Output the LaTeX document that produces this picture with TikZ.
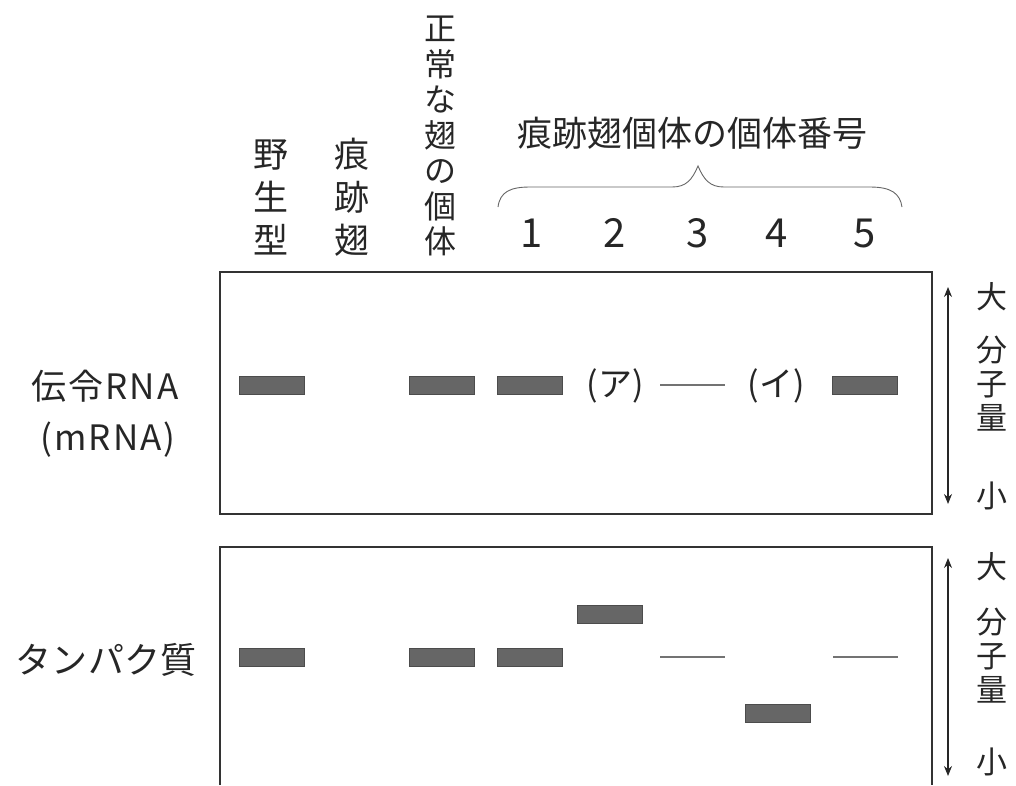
\documentclass[tikz,border=0pt]{standalone}
\usepackage{fontspec}
\setmainfont{Noto Sans CJK JP}
\usetikzlibrary{arrows.meta}
\begin{document}
\begin{tikzpicture}[x=1pt,y=-1pt,
  band/.style={fill=black!60,draw=black!70,line width=0.6pt,minimum width=65pt,minimum height=18pt,inner sep=0pt},
  faint/.style={draw=black!55,line width=2.6pt},
  frame/.style={draw=black!80,line width=1.2pt},
  lbl/.style={inner sep=0pt,text=black!85,align=center},
  axis/.style={draw=black!85,line width=1.1pt,{Stealth[length=10pt,width=8pt]}-{Stealth[length=10pt,width=8pt]}},
  brace/.style={draw=black!60,line width=0.9pt}
]
\useasboundingbox (0,0) rectangle (1016,785);

% column headers
\node[lbl,font=\fontsize{35}{43}\selectfont] (wt) at (271,197) {野\\生\\型};
\node[lbl,font=\fontsize{35}{43}\selectfont] (vg) at (352,197) {痕\\跡\\翅};
\node[lbl,font=\fontsize{32}{35.5}\selectfont] (nm) at (440,136) {正\\常\\な\\翅\\の\\個\\体};
\node[lbl,font=\fontsize{35}{40}\selectfont] (hd) at (692,133) {痕跡翅個体の個体番号};
\draw[brace] (498,207) .. controls (500,192) and (510,187) .. (530,187) -- (672,187)
  .. controls (686,187) and (692,180) .. (698,166)
  .. controls (704,180) and (710,187) .. (724,187) -- (870,187)
  .. controls (892,187) and (900,194) .. (902,207);
\foreach \n/\x in {1/532,2/615,3/698,4/777,5/865}
  \node[lbl,font=\fontsize{40}{40}\selectfont] (n\n) at (\x,233) {\n};

% row labels
\node[lbl,font=\fontsize{35}{40}\selectfont\addfontfeature{LetterSpace=6}] (rna) at (105,386) {伝令RNA};
\node[lbl,font=\fontsize{35}{40}\selectfont\addfontfeature{LetterSpace=6}] (mrna) at (108,440) {(mRNA)};
\node[lbl,font=\fontsize{36}{40}\selectfont] (prot) at (106,660) {タンパク質};

% frames
\node[frame,draw,minimum width=712pt,minimum height=242pt,inner sep=0pt] (topbox) at (576,393) {};
\coordinate (bl) at (220,785);
\coordinate (br) at (932,785);
\coordinate (tl) at (220,547);
\coordinate (tr) at (932,547);
\draw[frame] (bl) -- (tl) -- (tr) -- (br);

% mRNA bands
\node[band] (m1) at (272,385) {};
\node[band] (m2) at (442,385) {};
\node[band] (m3) at (530,385) {};
\node[lbl,font=\fontsize{34}{40}\selectfont] (ta) at (615,386) {(ア)};
\coordinate (m5a) at (660,385);
\coordinate (m5b) at (725,385);
\draw[faint] (m5a) -- (m5b);
\node[lbl,font=\fontsize{34}{40}\selectfont] (ti) at (776,386) {(イ)};
\node[band] (m8) at (865,385) {};

% protein bands
\node[band] (p1) at (272,657) {};
\node[band] (p2) at (442,657) {};
\node[band] (p3) at (530,657) {};
\node[band] (p4) at (610,614) {};
\coordinate (p5a) at (660,657);
\coordinate (p5b) at (725,657);
\draw[faint] (p5a) -- (p5b);
\node[band] (p6) at (778,713) {};
\coordinate (p7a) at (833,657);
\coordinate (p7b) at (898,657);
\draw[faint] (p7a) -- (p7b);

% molecular weight axes
\coordinate (a1) at (948,287);
\coordinate (a2) at (948,504);
\draw[axis] (a1) -- (a2);
\coordinate (b1) at (948,558);
\coordinate (b2) at (948,776);
\draw[axis] (b1) -- (b2);
\node[lbl,font=\fontsize{31}{34}\selectfont] (big1) at (992,297) {大};
\node[lbl,font=\fontsize{31}{34}\selectfont] (mw1) at (992,384) {分\\子\\量};
\node[lbl,font=\fontsize{31}{34}\selectfont] (sm1) at (992,496) {小};
\node[lbl,font=\fontsize{31}{34}\selectfont] (big2) at (992,567) {大};
\node[lbl,font=\fontsize{31}{34}\selectfont] (mw2) at (992,656) {分\\子\\量};
\node[lbl,font=\fontsize{31}{34}\selectfont] (sm2) at (992,762) {小};
\end{tikzpicture}
\end{document}
